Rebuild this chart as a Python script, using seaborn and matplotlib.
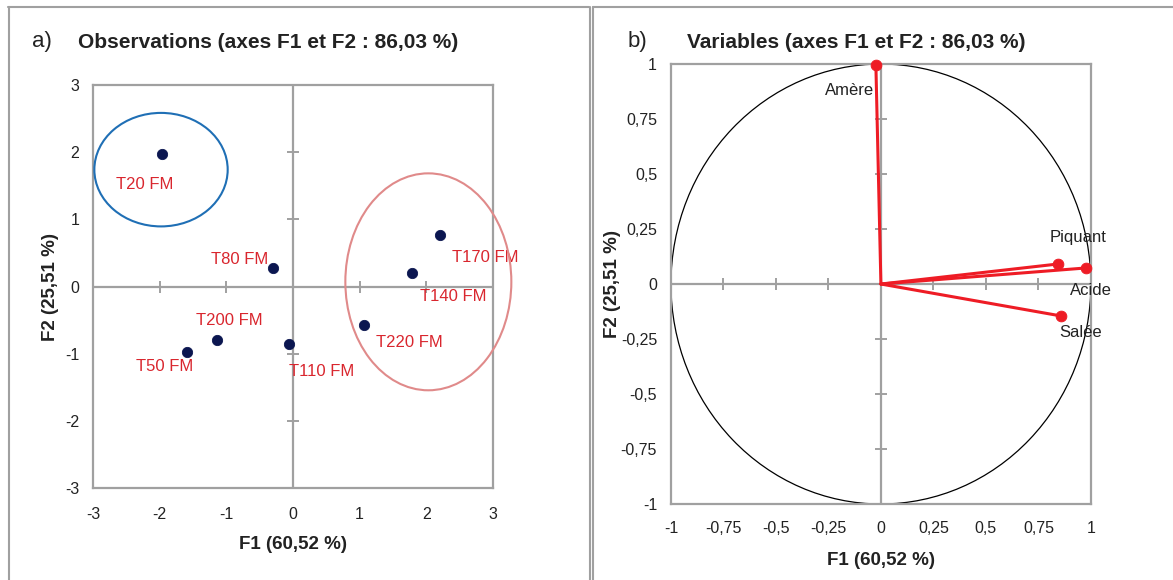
import numpy as np
import pandas as pd
import matplotlib
matplotlib.use("Agg")
import matplotlib.pyplot as plt
from matplotlib.patches import Ellipse, Circle
from matplotlib.lines import Line2D
import seaborn as sns

# observations (panel a)
obs_labels = ["T20 FM", "T80 FM", "T170 FM", "T140 FM", "T220 FM", "T200 FM", "T50 FM", "T110 FM"]
obs_f1 = [-1.96, -0.30, 2.20, 1.78, 1.06, -1.14, -1.59, -0.06]
obs_f2 = [1.97, 0.27, 0.76, 0.20, -0.58, -0.79, -0.98, -0.85]
# label anchor points (where the excel data labels sit)
lab_f1 = [-2.22, -0.37, 2.38, 2.40, 1.24, -1.45, -2.35, -0.06]
lab_f2 = [1.52, 0.40, 0.43, -0.15, -0.84, -0.51, -1.19, -1.27]
lab_ha = ["center", "right", "left", "center", "left", "left", "left", "left"]

# groups drawn by hand: centre f1, centre f2, width, height
groups = [(-1.98, 1.74, 2.0, 1.69, "#1f6fb5"),
          (2.03, 0.07, 2.49, 3.23, "#e08a8a")]

# variables (panel b)
var_labels = ["Amère", "Piquant", "Acide", "Salée"]
var_f1 = [-0.024, 0.843, 0.976, 0.857]
var_f2 = [0.995, 0.091, 0.073, -0.145]
vlab_f1 = [-0.15, 0.94, 1.00, 0.95]
vlab_f2 = [0.88, 0.21, -0.03, -0.22]

ticks_a = [-3, -2, -1, 0, 1, 2, 3]
ticks_b = [-1, -0.75, -0.5, -0.25, 0, 0.25, 0.5, 0.75, 1]

sns.set_theme(style="white")
plt.rcParams["font.family"] = ["Liberation Sans", "DejaVu Sans"]

grey = "#a0a0a0"
red_txt = "#d9262e"
red = "#ee1c25"
navy = "#0b1650"

fig = plt.figure(figsize=(11.73, 5.8), dpi=100)
ax1 = fig.add_axes([0.0793, 0.1586, 0.341, 0.6948])
ax2 = fig.add_axes([0.572, 0.131, 0.358, 0.7586])


def fmt(v):
    s = ("%g" % v).replace(".", ",")
    return s


def style_axes(ax, ticks, mark):
    ax.set_xlim(ticks[0], ticks[-1])
    ax.set_ylim(ticks[0], ticks[-1])
    ax.set_xticks(ticks)
    ax.set_yticks(ticks)
    ax.set_xticklabels([fmt(t) for t in ticks])
    ax.set_yticklabels([fmt(t) for t in ticks])
    for sp in ax.spines.values():
        sp.set_color(grey)
        sp.set_linewidth(1.6)
        sp.set_visible(True)
    ax.axhline(0, color=grey, lw=1.6, zorder=1)
    ax.axvline(0, color=grey, lw=1.6, zorder=1)
    inner = [t for t in ticks if t not in (0, ticks[0], ticks[-1])]
    ax.plot(inner, [0] * len(inner), ls="none", marker="|", ms=mark, mew=1.4, color=grey, zorder=1)
    ax.plot([0] * len(inner), inner, ls="none", marker="_", ms=mark, mew=1.4, color=grey, zorder=1)
    ax.set_facecolor("white")


# ---- panel a
style_axes(ax1, ticks_a, 8)
ax1.tick_params(axis="both", length=0, labelsize=11.5, labelcolor="#222222")
ax1.tick_params(axis="x", pad=14)
ax1.tick_params(axis="y", pad=10)

df_obs = pd.DataFrame({"F1": obs_f1, "F2": obs_f2, "label": obs_labels})
sns.scatterplot(data=df_obs, x="F1", y="F2", ax=ax1, color=navy, s=55, edgecolor=navy, zorder=4)
for i, lab in enumerate(obs_labels):
    ax1.text(lab_f1[i], lab_f2[i], lab, color=red_txt, fontsize=12, ha=lab_ha[i], va="center")
for cx, cy, w, h, c in groups:
    ax1.add_patch(Ellipse((cx, cy), w, h, fill=False, ec=c, lw=1.5, clip_on=False, zorder=3))
ax1.set_xlabel("F1 (60,52 %)", fontsize=13.5, fontweight="bold", color="#222222", labelpad=10)
ax1.set_ylabel("F2 (25,51 %)", fontsize=13.5, fontweight="bold", color="#222222", labelpad=4)

# ---- panel b
style_axes(ax2, ticks_b, 8)
ax2.tick_params(axis="both", length=0, labelsize=11.5, labelcolor="#222222")
ax2.tick_params(axis="x", pad=12)
ax2.tick_params(axis="y", pad=10)
ax2.add_patch(Circle((0, 0), 1, fill=False, ec="black", lw=0.9, zorder=2))
for i in range(len(var_labels)):
    ax2.plot([0, var_f1[i]], [0, var_f2[i]], color=red, lw=2.2, zorder=3)
df_var = pd.DataFrame({"F1": var_f1, "F2": var_f2})
sns.scatterplot(data=df_var, x="F1", y="F2", ax=ax2, color=red, s=60, edgecolor=red, zorder=4, clip_on=False)
for i, lab in enumerate(var_labels):
    ax2.text(vlab_f1[i], vlab_f2[i], lab, color="#222222", fontsize=12, ha="center", va="center")
ax2.set_xlabel("F1 (60,52 %)", fontsize=13.5, fontweight="bold", color="#222222", labelpad=12)
ax2.set_ylabel("F2 (25,51 %)", fontsize=13.5, fontweight="bold", color="#222222", labelpad=0)

# titles
fig.text(32 / 1173, 1 - 42 / 580, "a)", fontsize=16, va="center", color="#222222")
fig.text(78 / 1173, 1 - 42 / 580, "Observations (axes F1 et F2 : 86,03 %)", fontsize=15,
         fontweight="bold", va="center", color="#222222")
fig.text(628 / 1173, 1 - 42 / 580, "b)", fontsize=16, va="center", color="#222222")
fig.text(687 / 1173, 1 - 42 / 580, "Variables (axes F1 et F2 : 86,03 %)", fontsize=15,
         fontweight="bold", va="center", color="#222222")

# panel frames
W, H = 1173, 580
def fline(x0, y0, x1, y1):
    fig.add_artist(Line2D([x0 / W, x1 / W], [1 - y0 / H, 1 - y1 / H], color=grey, lw=1.5,
                          transform=fig.transFigure))

fline(8, 7, 589, 7)
fline(8.5, 7, 8.5, 580)
fline(589.5, 7, 589.5, 580)
fline(593, 7, 1173, 7)
fline(593, 7, 593, 580)

fig.savefig("out.png", dpi=100, facecolor="white")
